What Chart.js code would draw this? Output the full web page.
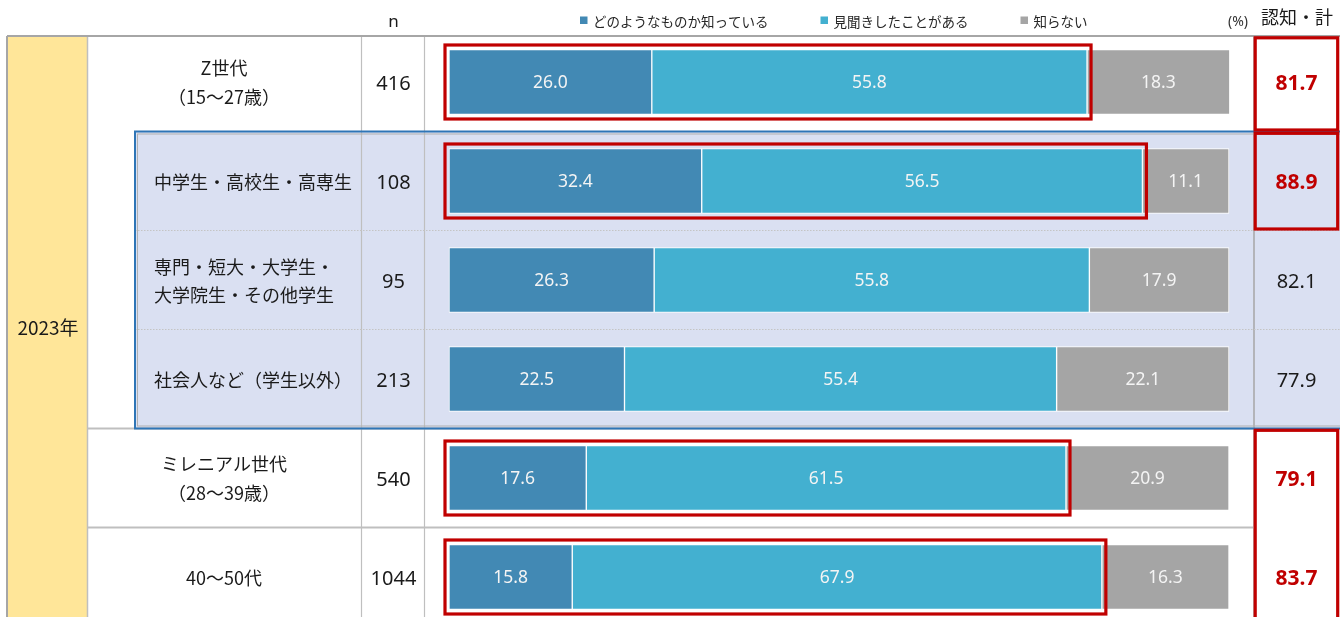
<!DOCTYPE html>
<html>
<head>
<meta charset="utf-8">
<script src="https://cdn.jsdelivr.net/npm/chart.js@4.4.1/dist/chart.umd.min.js"></script>
<style>
  html, body { margin: 0; padding: 0; background: #ffffff; overflow: hidden; }
  #wrap { width: 1340px; height: 617px; overflow: hidden; }
  canvas { display: block; }
</style>
</head>
<body>
<div id="wrap"><canvas id="c" width="1340" height="660"></canvas></div>
<script>
// ---- data ----
const yearLabel = '2023年';
const categories = [
  'Z世代\n（15～27歳）',
  '中学生・高校生・高専生',
  '専門・短大・大学生・\n大学院生・その他学生',
  '社会人など（学生以外）',
  'ミレニアル世代\n（28～39歳）',
  '40～50代'
];
const sampleSizes = [416, 108, 95, 213, 540, 1044];
const seriesNames = ['どのようなものか知っている', '見聞きしたことがある', '知らない'];
const knowWhat = [26.0, 32.4, 26.3, 22.5, 17.6, 15.8];
const heardOf = [55.8, 56.5, 55.8, 55.4, 61.5, 67.9];
const unknown = [18.3, 11.1, 17.9, 22.1, 20.9, 16.3];
const awareTotal = [81.7, 88.9, 82.1, 77.9, 79.1, 83.7];
const highlightRows = [0, 1, 4, 5];
const subgroupRows = [1, 2, 3];
const totalBoxGroups = [[0], [1], [4, 5]];
const headerN = 'n';
const headerPct = '(%)';
const headerTotal = '認知・計';

// ---- styles / layout ----
const seriesColors = ['#4289B4', '#43B0D0', '#A5A5A5'];
const RED = '#C00000';
const JP = '"Noto Sans CJK JP", "Noto Sans", sans-serif';
const NUM = '"Noto Sans", "Noto Sans CJK JP", sans-serif';
const L = {
  left: 7, yearR: 87, boxL: 135, labelR: 361, nR: 424, totalL: 1254, headerY: 36,
  visibleBottom: 617
};

function rowTop(chart, i) {
  const y = chart.scales.y;
  if (i === 0) return L.headerY;
  return (y.getPixelForValue(i - 1) + y.getPixelForValue(i)) / 2;
}
function rowBottom(chart, i) {
  if (i === categories.length - 1) return chart.height;
  return rowTop(chart, i + 1);
}
function line(ctx, x1, y1, x2, y2, color, w, dash) {
  ctx.save();
  ctx.strokeStyle = color; ctx.lineWidth = w;
  if (dash) ctx.setLineDash(dash);
  ctx.beginPath(); ctx.moveTo(x1, y1); ctx.lineTo(x2, y2); ctx.stroke();
  ctx.restore();
}
function text(ctx, s, x, y, font, color, align) {
  ctx.save();
  ctx.font = font; ctx.fillStyle = color;
  ctx.textAlign = align || 'center'; ctx.textBaseline = 'middle';
  ctx.fillText(s, x, y);
  ctx.restore();
}

const tablePlugin = {
  id: 'tablePlugin',
  beforeDatasetsDraw(chart) {
    const ctx = chart.ctx;
    const W = chart.width, H = chart.height;
    const sTop = rowTop(chart, subgroupRows[0]);
    const sBot = rowBottom(chart, subgroupRows[subgroupRows.length - 1]);
    // year column
    ctx.save();
    ctx.fillStyle = '#FFE699';
    ctx.fillRect(L.left, L.headerY, L.yearR - L.left, H - L.headerY);
    // subgroup box fill
    ctx.fillStyle = '#DAE0F2';
    ctx.fillRect(L.boxL, sTop, W - L.boxL, sBot - sTop);
    ctx.restore();
    // vertical lines
    line(ctx, L.yearR + 0.5, L.headerY, L.yearR + 0.5, H, '#BFBFBF', 1.5);
    line(ctx, L.labelR + 0.5, L.headerY, L.labelR + 0.5, H, '#BFBFBF', 1.2);
    line(ctx, L.nR + 0.5, L.headerY, L.nR + 0.5, H, '#BFBFBF', 1.2);
    line(ctx, L.totalL, L.headerY, L.totalL, H, '#A6A6A6', 1.5);
    // dotted separators inside subgroup
    for (let k = 1; k < subgroupRows.length; k++) {
      const yy = rowTop(chart, subgroupRows[k]);
      line(ctx, L.boxL, yy, W, yy, '#C4C4C4', 1, [1.5, 1.5]);
    }
    // row separators after subgroup
    for (let i = subgroupRows[subgroupRows.length - 1] + 1; i < categories.length; i++) {
      const yy = rowTop(chart, i);
      line(ctx, L.yearR, yy, L.totalL, yy, '#BFBFBF', 1.8);
    }
    // header line & left border
    line(ctx, L.left, L.headerY, W, L.headerY, '#A6A6A6', 2.2);
    line(ctx, L.left, L.headerY, L.left, H, '#A6A6A6', 2);
  },
  afterDatasetsDraw(chart) {
    const ctx = chart.ctx;
    const W = chart.width;
    const yScale = chart.scales.y;
    const sTop = rowTop(chart, subgroupRows[0]);
    const sBot = rowBottom(chart, subgroupRows[subgroupRows.length - 1]);
    // subgroup box border
    ctx.save();
    ctx.strokeStyle = '#B0B0B0'; ctx.lineWidth = 1;
    ctx.strokeRect(L.boxL + 2.5, sTop + 2.5, W, sBot - sTop - 5);
    ctx.strokeStyle = '#2E75B6'; ctx.lineWidth = 2;
    ctx.strokeRect(L.boxL, sTop, W, sBot - sTop);
    ctx.restore();

    // bar value labels
    chart.data.datasets.forEach((ds, di) => {
      const meta = chart.getDatasetMeta(di);
      meta.data.forEach((el, i) => {
        const v = ds.data[i];
        text(ctx, v.toFixed(1), (el.x + el.base) / 2, el.y + 1, '17.5px ' + NUM, '#F4F4F4');
      });
    });

    // red boxes around aware segments
    const m0 = chart.getDatasetMeta(0), m1 = chart.getDatasetMeta(1);
    highlightRows.forEach(i => {
      const a = m0.data[i], b = m1.data[i];
      const x1 = Math.min(a.base, a.x) - 4, x2 = b.x + 4;
      const h = a.height;
      const y1 = a.y - h / 2 - 4.5, y2 = a.y + h / 2 + 4.5;
      ctx.save();
      ctx.strokeStyle = RED; ctx.lineWidth = 3.2;
      ctx.strokeRect(x1, y1, x2 - x1, y2 - y1);
      ctx.restore();
    });

    // total column red boxes
    totalBoxGroups.forEach(g => {
      const t = rowTop(chart, g[0]) + 1.8;
      const b = rowBottom(chart, g[g.length - 1]) - 1.5;
      ctx.save();
      ctx.strokeStyle = RED; ctx.lineWidth = 3.2;
      ctx.strokeRect(L.totalL + 1.2, t, W - L.totalL - 3.5, b - t);
      ctx.restore();
    });

    // row labels
    categories.forEach((lab, i) => {
      const cy = yScale.getPixelForValue(i);
      const lines = lab.split('\n');
      const isSub = subgroupRows.includes(i);
      const gap = isSub ? 27.5 : 29;
      lines.forEach((ln, k) => {
        const yy = cy + 1 + (k - (lines.length - 1) / 2) * gap;
        if (isSub) text(ctx, ln, L.boxL + 19, yy, '18px ' + JP, '#1A1A1A', 'left');
        else text(ctx, ln, (L.yearR + L.labelR) / 2, yy, '18px ' + JP, '#1A1A1A', 'center');
      });
      // n
      text(ctx, String(sampleSizes[i]), (L.labelR + L.nR) / 2 + 1, cy + 2, '20px ' + NUM, '#1A1A1A');
      // total
      const hi = highlightRows.includes(i);
      text(ctx, awareTotal[i].toFixed(1), (L.totalL + W) / 2 - 0.5, cy + 2,
        (hi ? 'bold 21px ' : '20px ') + NUM, hi ? RED : '#1A1A1A');
    });

    // year label
    text(ctx, yearLabel, (L.left + L.yearR) / 2 + 1, (L.headerY + L.visibleBottom) / 2 + 1, '19px ' + JP, '#1A1A1A');

    // header
    text(ctx, headerN, (L.labelR + L.nR) / 2 + 1, 22, '17px ' + NUM, '#1A1A1A');
    text(ctx, headerPct, 1248, 22, '14px ' + NUM, '#333333', 'right');
    text(ctx, headerTotal, (L.totalL + W) / 2, 17, '18px ' + JP, '#1A1A1A');

    // legend
    ctx.save();
    ctx.font = '13.5px ' + JP;
    let lx = 580;
    chart.data.datasets.forEach((ds, di) => {
      ctx.fillStyle = ds.backgroundColor;
      ctx.fillRect(lx, 16.5, 7.5, 7.5);
      ctx.fillStyle = '#262626';
      ctx.textAlign = 'left'; ctx.textBaseline = 'middle';
      ctx.fillText(ds.label, lx + 13, 21.5);
      lx += 13 + ctx.measureText(ds.label).width + 52;
    });
    ctx.restore();
  }
};

const seriesData = [knowWhat, heardOf, unknown];
new Chart(document.getElementById('c'), {
  type: 'bar',
  data: {
    labels: categories,
    datasets: seriesNames.map((name, k) => ({
      label: name,
      data: seriesData[k],
      backgroundColor: seriesColors[k],
      borderColor: '#FFFFFF',
      borderWidth: 1,
      borderSkipped: false,
      barThickness: 65,
      clip: false
    }))
  },
  options: {
    indexAxis: 'y',
    responsive: false,
    animation: false,
    events: [],
    layout: { padding: { left: 449, right: 111, top: 32.5, bottom: 33.5 } },
    scales: {
      x: { stacked: true, min: 0, max: 100, display: false },
      y: { stacked: true, display: false }
    },
    plugins: { legend: { display: false }, tooltip: { enabled: false } }
  },
  plugins: [tablePlugin]
});
</script>
</body>
</html>
